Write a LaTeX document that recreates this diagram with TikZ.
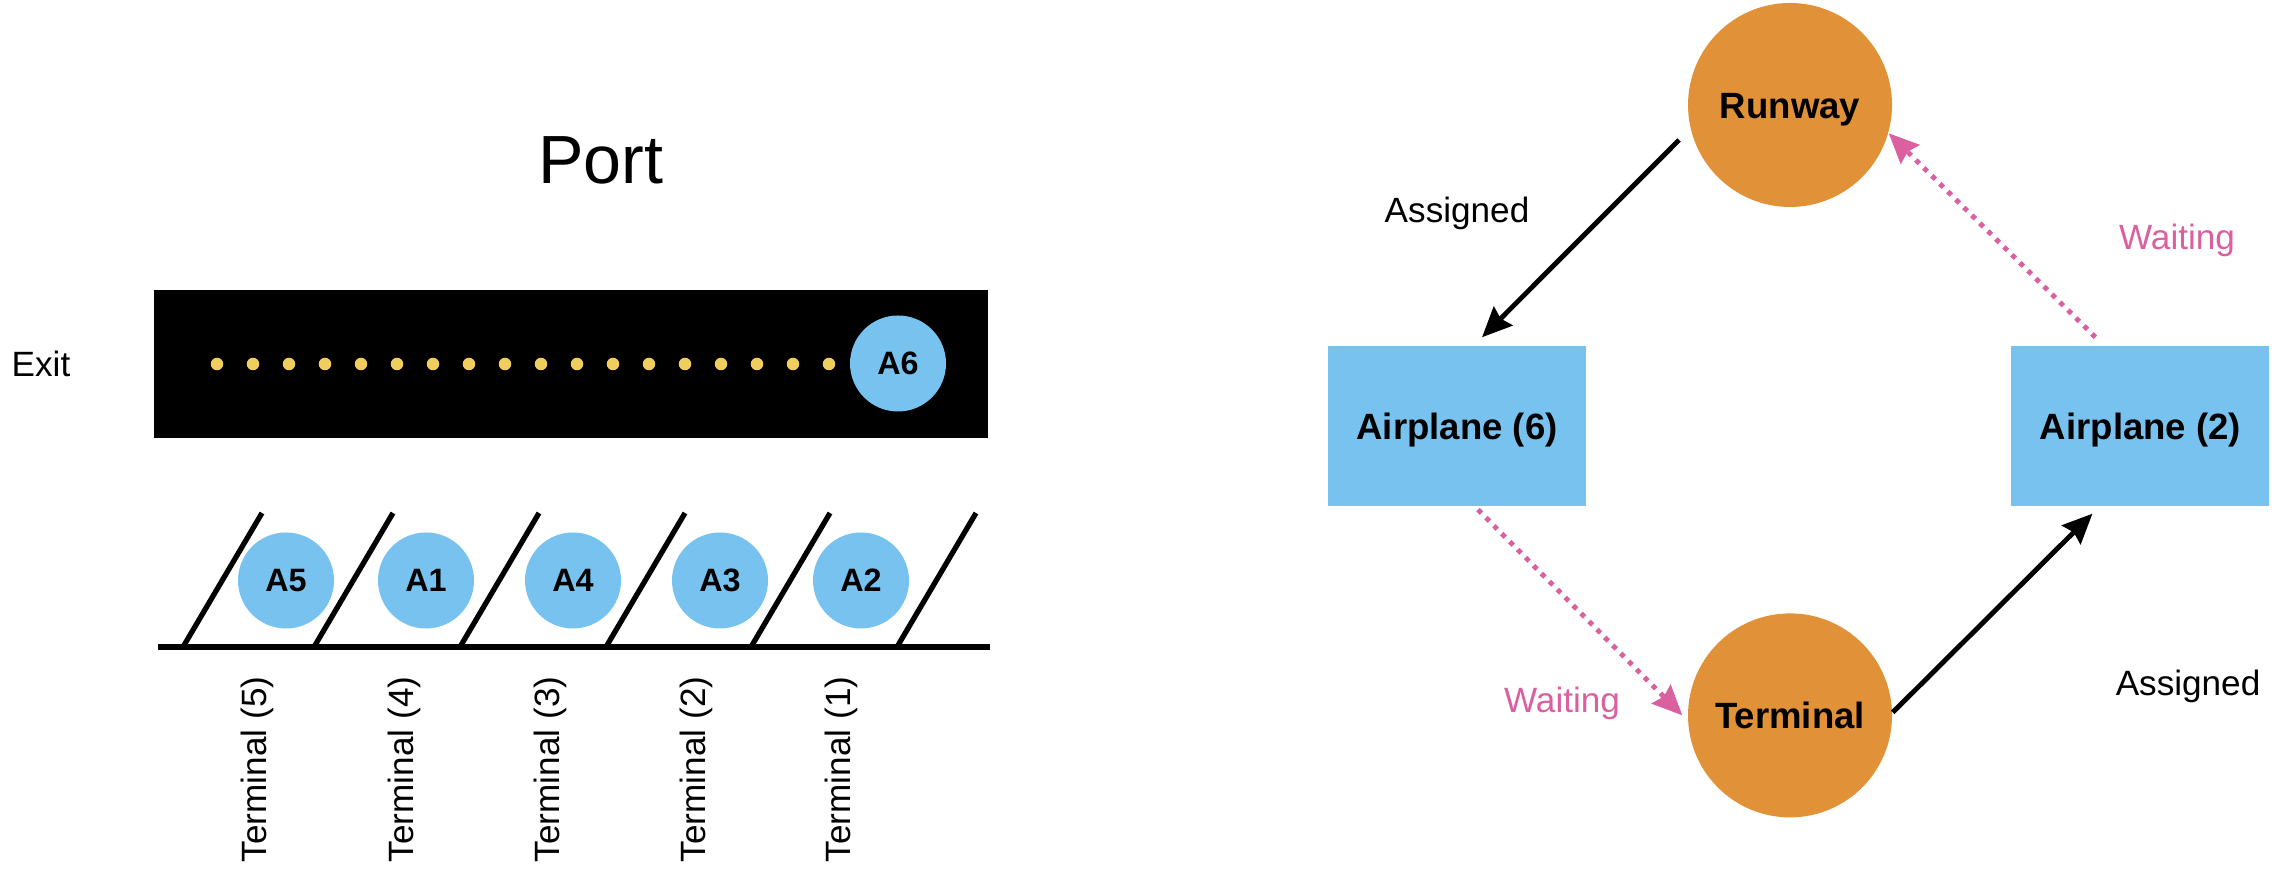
\documentclass[tikz,border=0pt]{standalone}
\usepackage{fontspec}
\setmainfont{Liberation Sans}
\usepackage{tikz}
\usetikzlibrary{positioning, arrows.meta}
\definecolor{planeBlue}{HTML}{78C2F0}
\definecolor{stateOrange}{HTML}{E19137}
\definecolor{waitPink}{HTML}{DA60A0}
\definecolor{lampYellow}{HTML}{F0CD5F}

\begin{document}
\begin{tikzpicture}[apl/.style={circle, fill=planeBlue, minimum size=0.96cm, inner sep=0pt, font=\fontsize{9.2}{11}\selectfont\bfseries},stc/.style={circle, fill=stateOrange, minimum size=2.04cm, inner sep=0pt, text height=7.45pt, text depth=0pt, font=\fontsize{10.4}{12}\selectfont\bfseries},box/.style={fill=planeBlue, minimum width=2.58cm, minimum height=1.6cm, inner sep=0pt, text height=7.45pt, text depth=0pt, font=\fontsize{10.4}{12}\selectfont\bfseries},lbl/.style={font=\fontsize{10}{12}\selectfont, inner sep=0pt},asg/.style={line width=1.4pt, -{Stealth[length=8.5pt, width=7.5pt, inset=1pt]}},wait/.style={asg, color=waitPink, dash pattern=on 1.4pt off 1.8pt}]
\useasboundingbox (0,0) rectangle (22.76,8.76);
% port side
\node[font=\fontsize{19.4}{23}\selectfont, inner sep=0pt] (port) at (6.01,7.16) {Port};
\node[lbl] (exit) at (0.41,5.12) {Exit};
\node[fill=black, minimum width=8.34cm, minimum height=1.48cm, inner sep=0pt] (lane) at (5.71,5.12) {};
\foreach \i in {0,...,17} \node[circle, fill=lampYellow, minimum size=0.125cm, inner sep=0pt] (d\i) at (2.17+0.36*\i,5.12) {};
\node[apl] (a6) at (8.98,5.125) {A6};
\draw[line width=1.5pt] (1.58,2.29) -- (9.90,2.29);
\foreach \x in {1.83,3.14,4.60,6.06,7.51,8.97} \draw[line width=1.5pt] (\x,2.29) -- ++(0.79,1.34);
\node[apl] (a5) at (2.86,2.955) {A5}; \node[apl] (a1) at (4.26,2.955) {A1};
\node[apl] (a4) at (5.73,2.955) {A4}; \node[apl] (a3) at (7.20,2.955) {A3};
\node[apl] (a2) at (8.61,2.955) {A2};
\node[lbl, rotate=90, anchor=east] (t5) at (2.57,2.00) {Terminal (5)};
\node[lbl, rotate=90, anchor=east] (t4) at (4.04,2.00) {Terminal (4)};
\node[lbl, rotate=90, anchor=east] (t3) at (5.50,2.00) {Terminal (3)};
\node[lbl, rotate=90, anchor=east] (t2) at (6.96,2.00) {Terminal (2)};
\node[lbl, rotate=90, anchor=east] (t1) at (8.415,2.00) {Terminal (1)};
% state cycle
\node[stc] (run) at (17.90,7.71) {Runway};
\node[stc, below=4.05cm of run] (term) {Terminal};
\node[box] (ap6) at (14.57,4.50) {Airplane (6)};
\node[box, right=4.24cm of ap6] (ap2) {Airplane (2)};
\node[lbl] (asg1) at (14.57,6.63) {Assigned}; \node[lbl, text=waitPink] (wt1) at (21.77,6.36) {Waiting};
\node[lbl, text=waitPink] (wt2) at (15.62,1.73) {Waiting}; \node[lbl] (asg2) at (21.88,1.90) {Assigned};
\draw[asg] ([xshift=-1.11cm, yshift=-0.35cm]run.center) -- ([xshift=0.25cm, yshift=0.08cm]ap6.north);
\draw[wait] ([xshift=0.21cm, yshift=-0.03cm]ap6.south) -- ([xshift=-0.05cm]term.west);
\draw[asg] ([yshift=0.03cm]term.east) -- ([xshift=-0.48cm, yshift=-0.07cm]ap2.south);
\draw[wait] ([xshift=-0.45cm, yshift=0.08cm]ap2.north) -- (run.-16);
\end{tikzpicture}
\end{document}
